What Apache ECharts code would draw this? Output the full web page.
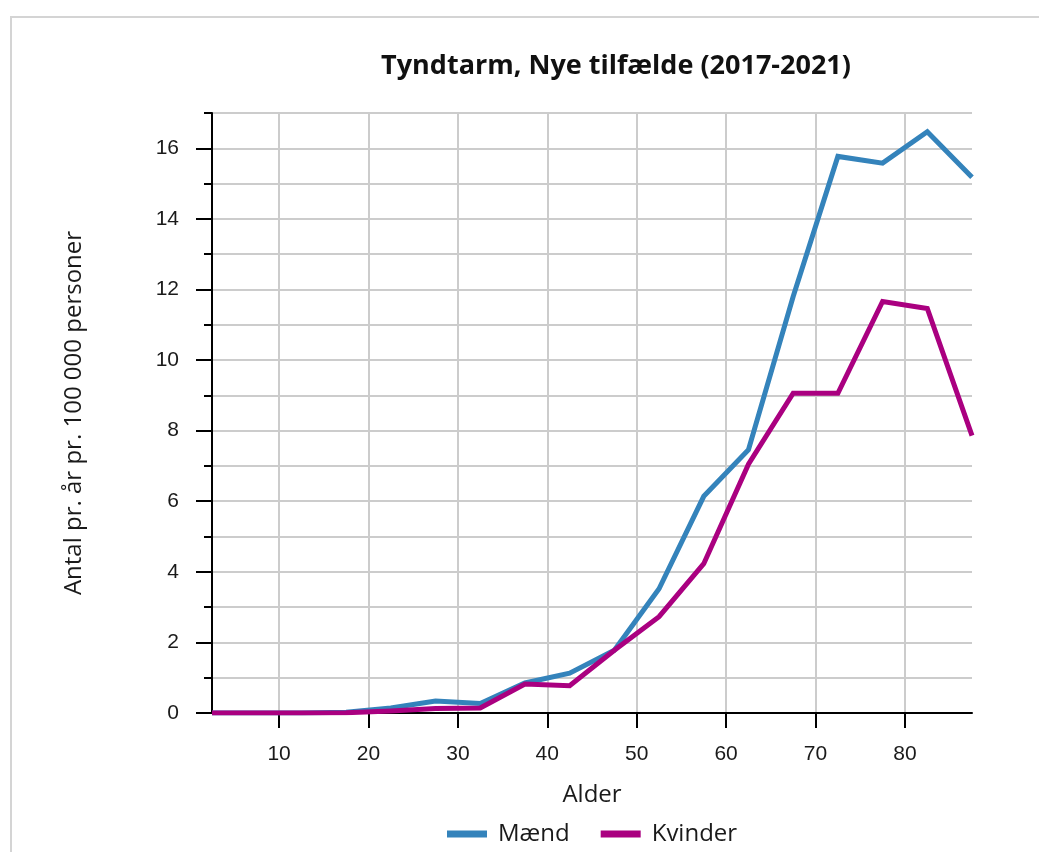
<!DOCTYPE html>
<html><head><meta charset="utf-8">
<script src="https://cdn.jsdelivr.net/npm/echarts@6/dist/echarts.min.js"></script>
<style>html,body{margin:0;padding:0;background:#fff}#c{width:1039px;height:852px}</style>
</head><body><div id="c"></div>
<script>
const ages = [2.5, 7.5, 12.5, 17.5, 22.5, 27.5, 32.5, 37.5, 42.5, 47.5, 52.5, 57.5, 62.5, 67.5, 72.5, 77.5, 82.5, 87.5];
const maend = [0, 0, 0, 0.02, 0.14, 0.34, 0.27, 0.85, 1.13, 1.78, 3.52, 6.14, 7.46, 11.8, 15.77, 15.58, 16.47, 15.18];
const kvinder = [0, 0, 0, 0.01, 0.06, 0.13, 0.14, 0.82, 0.77, 1.78, 2.73, 4.23, 7.05, 9.06, 9.06, 11.66, 11.46, 7.86];
const xTickValues = [10, 20, 30, 40, 50, 60, 70, 80];
const yTickValues = [0, 2, 4, 6, 8, 10, 12, 14, 16];
const seriesNames = ['Mænd', 'Kvinder'];
const seriesColors = ['#3483bb', '#aa0080'];

const chart = echarts.init(document.getElementById('c'), null, {renderer: 'canvas'});
const gridRect = {left: 212, right: 67, top: 113, bottom: 139};
const tickFont = {fontFamily: 'Liberation Sans', fontSize: 21, color: '#1a1a1a'};
const nameFont = {fontFamily: 'Open Sans', fontSize: 24, color: '#1a1a1a'};
const axisLineStyle = {color: '#000', width: 2};

chart.setOption({
  animation: false,
  backgroundColor: '#fff',
  graphic: [{
    type: 'rect', z: -10, silent: true,
    shape: {x: 11, y: 17, width: 1200, height: 1000},
    style: {fill: 'none', stroke: '#d4d4d4', lineWidth: 2}
  }],
  title: {
    text: 'Tyndtarm, Nye tilfælde (2017-2021)',
    left: 611, top: 48, textAlign: 'center',
    textStyle: {fontFamily: 'Open Sans', fontWeight: 'bold', fontSize: 27, color: '#111'}
  },
  legend: {
    left: 447, top: 822, padding: 0,
    itemWidth: 40, itemHeight: 7, itemGap: 31, icon: 'rect',
    textStyle: Object.assign({}, nameFont, {padding: [0, 0, 0, 6]}),
    data: seriesNames
  },
  grid: [Object.assign({}, gridRect), Object.assign({}, gridRect)],
  xAxis: [{
    type: 'value', gridIndex: 0, min: 2.5, max: 87.5,
    axisLine: {show: true, onZero: false, lineStyle: axisLineStyle},
    axisTick: {show: true, length: 15, customValues: xTickValues, lineStyle: axisLineStyle},
    axisLabel: {show: true, margin: 31, customValues: xTickValues, ...tickFont},
    splitLine: {show: true, lineStyle: {color: '#cccccc', width: 2}},
    name: 'Alder', nameLocation: 'middle', nameGap: 70, nameTextStyle: nameFont
  }, {
    type: 'value', gridIndex: 1, min: 2.5, max: 87.5, show: false
  }],
  yAxis: [{
    type: 'value', gridIndex: 0, min: 0, max: 17, interval: 1,
    axisLine: {show: true, onZero: false, lineStyle: axisLineStyle},
    axisTick: {show: true, length: 8, lineStyle: axisLineStyle},
    axisLabel: {show: false},
    splitLine: {show: true, lineStyle: {color: '#cccccc', width: 2}},
    name: 'Antal pr. år pr. 100 000 personer', nameLocation: 'middle', nameGap: 126,
    nameTextStyle: nameFont
  }, {
    type: 'value', gridIndex: 1, min: 0, max: 17, interval: 1,
    axisLine: {show: false},
    axisTick: {show: true, length: 16, customValues: yTickValues, lineStyle: axisLineStyle},
    axisLabel: {show: true, margin: 33, customValues: yTickValues, ...tickFont},
    splitLine: {show: false}
  }],
  series: [{
    name: seriesNames[0], type: 'line', xAxisIndex: 0, yAxisIndex: 0,
    data: ages.map((a, i) => [a, maend[i]]),
    showSymbol: false, symbol: 'none',
    lineStyle: {color: seriesColors[0], width: 5, join: 'miter'},
    itemStyle: {color: seriesColors[0]}, z: 3
  }, {
    name: seriesNames[1], type: 'line', xAxisIndex: 0, yAxisIndex: 0,
    data: ages.map((a, i) => [a, kvinder[i]]),
    showSymbol: false, symbol: 'none',
    lineStyle: {color: seriesColors[1], width: 5, join: 'miter'},
    itemStyle: {color: seriesColors[1]}, z: 4
  }]
});
</script>
</body></html>
